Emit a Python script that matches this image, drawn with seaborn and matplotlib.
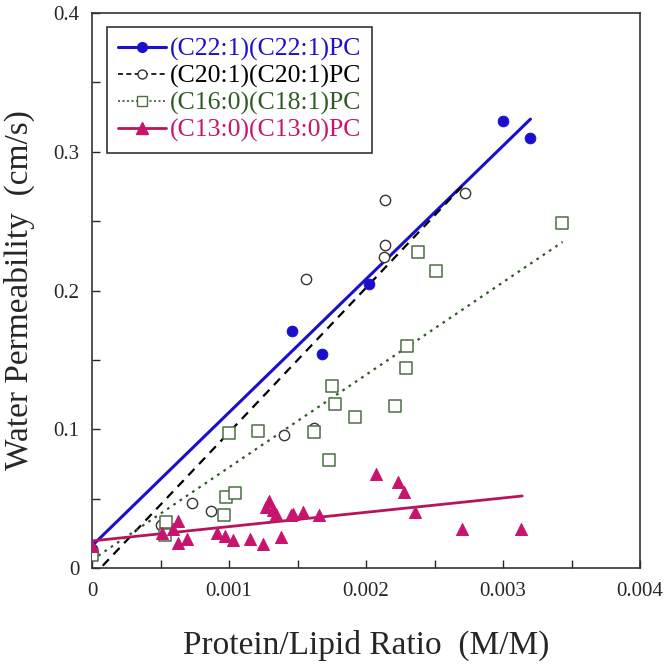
import numpy as np
import pandas as pd
import matplotlib
matplotlib.use('Agg')
import matplotlib.pyplot as plt
import seaborn as sns
from matplotlib.lines import Line2D

# data (x = protein/lipid ratio, y = water permeability)
c22_x = [0.0, 1.46e-3, 1.68e-3, 2.02e-3, 3.00e-3, 3.20e-3]
c22_y = [0.014, 0.171, 0.154, 0.205, 0.322, 0.310]

c20_x = [0.0, 0.50e-3, 0.73e-3, 0.87e-3, 1.40e-3, 1.56e-3, 1.62e-3, 2.14e-3, 2.14e-3, 2.13e-3, 2.72e-3]
c20_y = [0.011, 0.031, 0.047, 0.041, 0.096, 0.208, 0.101, 0.265, 0.233, 0.224, 0.270]

c16_x = [0.0, 0.53e-3, 0.54e-3, 0.96e-3, 0.98e-3, 1.00e-3, 1.04e-3, 1.21e-3, 1.62e-3, 1.73e-3,
         1.75e-3, 1.77e-3, 1.92e-3, 2.21e-3, 2.29e-3, 2.30e-3, 2.38e-3, 2.51e-3, 3.43e-3]
c16_y = [0.009, 0.024, 0.033, 0.038, 0.051, 0.097, 0.054, 0.099, 0.098, 0.078,
         0.131, 0.118, 0.109, 0.117, 0.144, 0.160, 0.228, 0.214, 0.249]

c13_x = [0.0, 0.51e-3, 0.59e-3, 0.63e-3, 0.63e-3, 0.69e-3, 0.91e-3, 0.97e-3, 1.03e-3, 1.15e-3,
         1.25e-3, 1.29e-3, 1.27e-3, 1.32e-3, 1.34e-3, 1.38e-3, 1.45e-3, 1.47e-3, 1.54e-3, 1.66e-3,
         2.07e-3, 2.23e-3, 2.28e-3, 2.36e-3, 2.70e-3, 3.13e-3]
c13_y = [0.016, 0.025, 0.028, 0.034, 0.018, 0.021, 0.025, 0.023, 0.020, 0.021,
         0.017, 0.048, 0.044, 0.042, 0.039, 0.022, 0.038, 0.039, 0.040, 0.038,
         0.068, 0.062, 0.055, 0.040, 0.028, 0.028]

# fitted lines (end points)
fit22_x, fit22_y = [0.0, 3.2e-3], [0.016, 0.3235]
fit20_x, fit20_y = [0.0, 2.72e-3], [-0.0065, 0.277]
fit16_x, fit16_y = [0.0, 3.435e-3], [0.0058, 0.235]
fit13_x, fit13_y = [0.0, 3.14e-3], [0.0195, 0.0519]

labels = ['(C22:1)(C22:1)PC', '(C20:1)(C20:1)PC', '(C16:0)(C18:1)PC', '(C13:0)(C13:0)PC']

sns.set_style('ticks')
plt.rcParams['font.family'] = ['Liberation Serif', 'DejaVu Serif']

blue = '#1a0fcc'
green = '#2f5a26'
sq_green = '#4d6e46'
pink = '#c8146e'
pink_line = '#b8145a'

fig = plt.figure(figsize=(6.64, 6.64), dpi=100)
ax = fig.add_axes([0.1386, 0.1446, 0.8253, 0.8358])

# lines
sns.lineplot(x=fit22_x, y=fit22_y, ax=ax, color=blue, lw=2.2)
sns.lineplot(x=fit20_x, y=fit20_y, ax=ax, color='black', lw=1.6, linestyle=(0, (4, 3)))
sns.lineplot(x=fit16_x, y=fit16_y, ax=ax, color=green, lw=1.6, linestyle=(0, (1.2, 2.2)))
sns.lineplot(x=fit13_x, y=fit13_y, ax=ax, color=pink_line, lw=2.0)

# points
sns.scatterplot(x=c22_x, y=c22_y, ax=ax, color=blue, marker='o', s=60, edgecolor=blue, zorder=5)
sns.scatterplot(x=c20_x, y=c20_y, ax=ax, facecolor='white', marker='o', s=55, edgecolor='#333333', linewidth=1.0, zorder=5)
sns.scatterplot(x=c16_x, y=c16_y, ax=ax, facecolor='white', marker='s', s=70, edgecolor=sq_green, linewidth=1.1, zorder=5)
sns.scatterplot(x=c13_x, y=c13_y, ax=ax, color=pink, marker='^', s=75, edgecolor=pink, zorder=6)

ax.set_xlim(0, 0.004)
ax.set_ylim(0, 0.4)
ax.set_xticks([0, 0.001, 0.002, 0.003, 0.004])
ax.set_xticklabels(['0', '0.001', '0.002', '0.003', '0.004'])
ax.set_yticks([0, 0.1, 0.2, 0.3, 0.4])
ax.set_yticklabels(['0', '0.1', '0.2', '0.3', '0.4'])
ax.set_xticks(np.arange(0.0005, 0.004, 0.001), minor=True)
ax.set_yticks(np.arange(0.05, 0.4, 0.1), minor=True)
ax.tick_params(direction='in', length=6, width=1, labelsize=15)
ax.tick_params(axis='x', pad=10)
ax.tick_params(axis='y', pad=9)
ax.tick_params(which='minor', direction='in', length=6, width=1)
for sp in ax.spines.values():
    sp.set_linewidth(1.2)
    sp.set_color('#333333')

ax.set_xlabel('Protein/Lipid Ratio  (M/M)', fontsize=24, labelpad=21)
ax.set_ylabel('Water Permeability  (cm/s)', fontsize=24, labelpad=13)

# legend
handles = [
    Line2D([], [], color=blue, lw=2.2, marker='o', ms=7, mfc=blue, mec=blue),
    Line2D([], [], color='black', lw=1.2, linestyle=(0, (3, 2)), marker='o', ms=6.5, mfc='white', mec='#333333'),
    Line2D([], [], color=green, lw=1.2, linestyle=(0, (1.2, 1.5)), marker='s', ms=7, mfc='white', mec=sq_green),
    Line2D([], [], color=pink_line, lw=2.0, marker='^', ms=8, mfc=pink, mec=pink),
]
leg = ax.legend(handles, labels, loc='upper left', bbox_to_anchor=(0.027, 0.975), fontsize=18.5,
                frameon=True, fancybox=False, edgecolor='black', handlelength=1.9,
                handletextpad=0.15, labelspacing=0.14, borderpad=0.42, borderaxespad=0.0)
leg.get_frame().set_linewidth(1.2)
for t, c in zip(leg.get_texts(), [blue, 'black', green, pink]):
    t.set_color(c)

fig.savefig('out.png', dpi=100)
